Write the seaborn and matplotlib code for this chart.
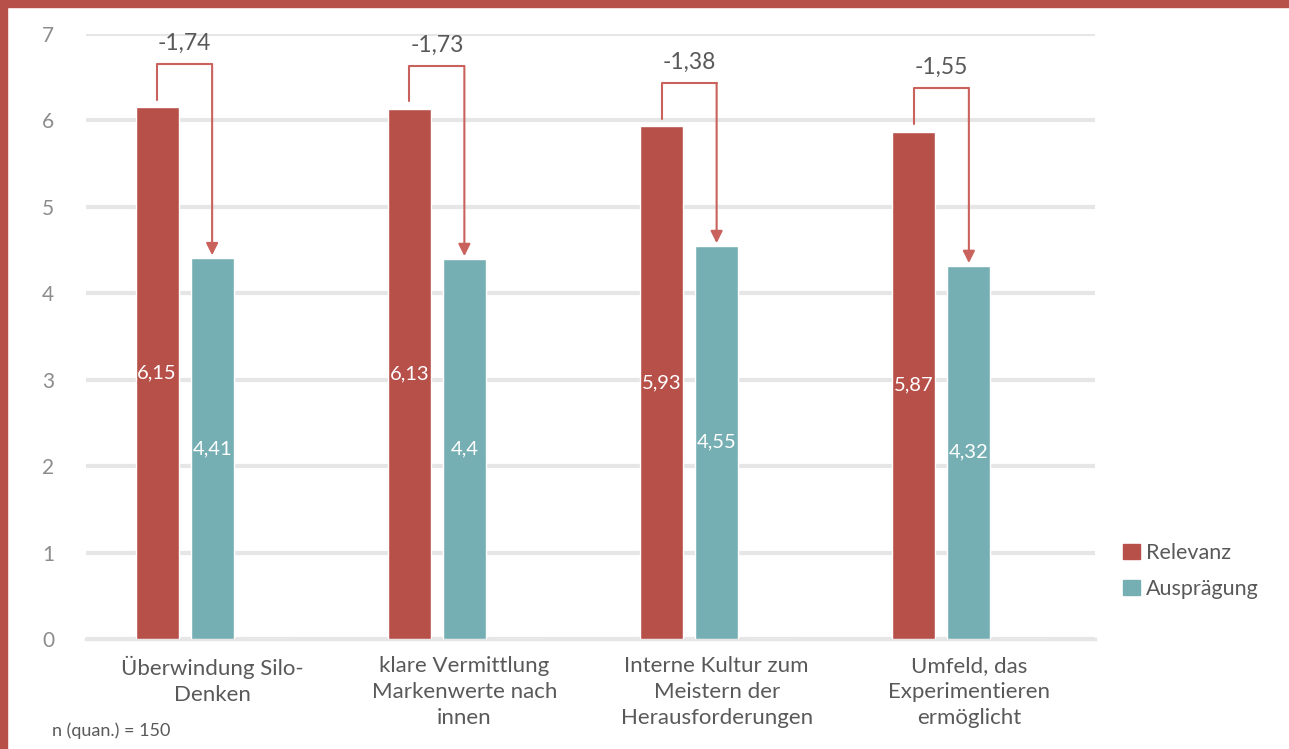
import pandas as pd
import matplotlib.pyplot as plt
import seaborn as sns
from matplotlib.patches import Patch, Rectangle

# data
categories = ['Überwindung Silo-\nDenken',
              'klare Vermittlung\nMarkenwerte nach\ninnen',
              'Interne Kultur zum\nMeistern der\nHerausforderungen',
              'Umfeld, das\nExperimentieren\nermöglicht']
relevanz = [6.15, 6.13, 5.93, 5.87]
auspraegung = [4.41, 4.40, 4.55, 4.32]
diff_labels = ['-1,74', '-1,73', '-1,38', '-1,55']
rel_labels = ['6,15', '6,13', '5,93', '5,87']
aus_labels = ['4,41', '4,4', '4,55', '4,32']

RED = '#B8504A'
TEAL = '#76AFB3'
ARROW = '#C9625C'
TXT = '#595959'
TICK = '#8C8C8C'
GRID = '#E6E6E6'

sns.set_style('white')
plt.rcParams['font.family'] = ['Lato', 'DejaVu Sans']

df = pd.DataFrame({
    'cat': categories * 3,
    'series': ['Relevanz'] * 4 + ['Ausprägung'] * 4 + ['pad'] * 4,
    'value': relevanz + auspraegung + [0] * 4,
})

fig = plt.figure(figsize=(12.89, 7.49), dpi=100)
ax = fig.add_axes([86 / 1289, 1 - 639 / 749, (1095 - 86) / 1289, (639 - 34) / 749])

sns.barplot(data=df, x='cat', y='value', hue='series',
            hue_order=['Relevanz', 'Ausprägung', 'pad'],
            palette=[RED, TEAL, 'white'], saturation=1, width=0.655, gap=0.22,
            legend=False, ax=ax, zorder=3)

ax.set_xlim(-0.5, 3.5)
ax.set_ylim(0, 7)
ax.set_yticks(range(8))
ax.yaxis.grid(True, color=GRID, linewidth=3, zorder=0)
ax.set_axisbelow(True)
for s in ['top', 'right', 'left']:
    ax.spines[s].set_visible(False)
ax.spines['bottom'].set_color(GRID)
ax.spines['bottom'].set_linewidth(2.5)
ax.tick_params(axis='y', length=0, labelsize=15, labelcolor=TICK, pad=23)
ax.tick_params(axis='x', which='major', length=0, labelsize=16, labelcolor=TXT, pad=12)
for lab in ax.get_xticklabels():
    lab.set_linespacing(1.4)
ax.set_xticks([-0.5, 0.5, 1.5, 2.5, 3.5], minor=True)
ax.tick_params(axis='x', which='minor', length=9, width=2.5, color=GRID)
ax.set_xlabel('')
ax.set_ylabel('')

red_bars = ax.containers[0]
teal_bars = ax.containers[1]
for i in range(4):
    rb = red_bars[i]
    tb = teal_bars[i]
    xr = rb.get_x() + rb.get_width() / 2
    xt = tb.get_x() + tb.get_width() / 2
    top = relevanz[i] + 0.5
    ax.plot([xr, xr, xt], [relevanz[i] + 0.09, top, top],
            color=ARROW, linewidth=1.5, clip_on=False, zorder=4)
    ax.annotate('', xy=(xt, auspraegung[i] + 0.03), xytext=(xt, top),
                arrowprops=dict(arrowstyle='-|>', color=ARROW, lw=1.5,
                                mutation_scale=18, shrinkA=0, shrinkB=0),
                zorder=4, annotation_clip=False)
    ax.text((xr + xt) / 2, top + 0.24, diff_labels[i], ha='center', va='center',
            fontsize=16.5, color=TXT)
    ax.text(xr, relevanz[i] / 2, rel_labels[i], ha='center', va='center',
            fontsize=14.5, color='white', zorder=5)
    ax.text(xt, auspraegung[i] / 2, aus_labels[i], ha='center', va='center',
            fontsize=14.5, color='white', zorder=5)

handles = [Patch(color=RED, label='Relevanz'), Patch(color=TEAL, label='Ausprägung')]
fig.legend(handles=handles, loc='center left', bbox_to_anchor=(1104 / 1289, 1 - 571 / 749),
           frameon=False, fontsize=15.5, labelcolor=TXT, handlelength=0.75, handleheight=0.75,
           handletextpad=0.3, labelspacing=0.75)

fig.text(52 / 1289, 1 - 731 / 749, 'n (quan.) = 150', fontsize=13, color=TXT, va='center')

# red frame along top and left
fig.patches.append(Rectangle((0, 1 - 7 / 749), 1, 7 / 749, transform=fig.transFigure,
                             color=RED, zorder=10))
fig.patches.append(Rectangle((0, 0), 7 / 1289, 1, transform=fig.transFigure,
                             color=RED, zorder=10))

fig.savefig('out.png', dpi=100)
